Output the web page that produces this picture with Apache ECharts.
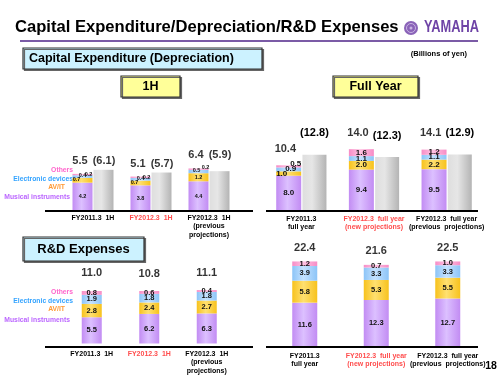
<!DOCTYPE html>
<html>
<head>
<meta charset="utf-8">
<script src="https://cdn.jsdelivr.net/npm/echarts@6/dist/echarts.min.js"></script>
<style>html,body{margin:0;padding:0;background:#fff;}#c{width:500px;height:375px;}</style>
</head>
<body>
<div id="c"></div>
<script>
// ---- data ----
const cats1H = ['FY2011.3  1H', 'FY2012.3  1H', 'FY2012.3  1H\n(previous\nprojections)'];
const catsFY = ['FY2011.3\nfull year', 'FY2012.3  full year\n(new projections)', 'FY2012.3  full year\n(previous  projections)'];
const segmentNames = ['Musical instruments', 'AV/IT', 'Electronic devices', 'Others'];

const capex1hMusical = [4.2, 3.8, 4.4];
const capex1hAVIT = [0.7, 0.7, 1.2];
const capex1hElectronic = [0.4, 0.4, 0.5];
const capex1hOthers = [0.2, 0.2, 0.2];
const capex1hTotal = [5.5, 5.1, 6.4];
const deprec1h = [6.1, 5.7, 5.9];

const capexFyMusical = [8.0, 9.4, 9.5];
const capexFyAVIT = [1.0, 2.0, 2.2];
const capexFyElectronic = [0.9, 1.1, 1.1];
const capexFyOthers = [0.5, 1.6, 1.2];
const capexFyTotal = [10.4, 14.0, 14.1];
const deprecFy = [12.8, 12.3, 12.9];

const rd1hMusical = [5.5, 6.2, 6.3];
const rd1hAVIT = [2.8, 2.4, 2.7];
const rd1hElectronic = [1.9, 1.8, 1.8];
const rd1hOthers = [0.8, 0.6, 0.4];
const rd1hTotal = [11.0, 10.8, 11.1];

const rdFyMusical = [11.6, 12.3, 12.7];
const rdFyAVIT = [5.8, 5.3, 5.5];
const rdFyElectronic = [3.9, 3.3, 3.3];
const rdFyOthers = [1.2, 0.7, 1.0];
const rdFyTotal = [22.4, 21.6, 22.5];

// ---- style ----
const FONT = 'Liberation Sans, Arial, sans-serif';
function grad(edge, mid) {
  return new echarts.graphic.LinearGradient(0, 0, 1, 0, [
    {offset: 0, color: edge}, {offset: 0.45, color: mid}, {offset: 1, color: edge}
  ]);
}
const segColors = [
  grad('#c28cf3', '#dcc0ff'),
  grad('#f7c21d', '#ffe070'),
  grad('#8cc4f7', '#c4e2ff'),
  grad('#f78cc6', '#ffc2e2')
];
const grayColor = new echarts.graphic.LinearGradient(0, 0, 1, 0, [
  {offset: 0, color: '#dedede'}, {offset: 0.4, color: '#e6e6e6'}, {offset: 1, color: '#b4b4b4'}
]);

// per-item label tweaks (style only)
const lab1H = [
  [{}, {}, {}],
  [{offset: [-6, -1]}, {offset: [-6, -1]}, {}],
  [{offset: [0, -1]}, {offset: [0, -1]}, {offset: [-2, -1]}],
  [{offset: [6, 0]}, {offset: [6, 0]}, {offset: [7, -2]}]
];
const labFY = [
  [{}, {}, {}],
  [{offset: [-7, 0]}, {}, {}],
  [{offset: [2, -1]}, {}, {}],
  [{offset: [7, -3]}, {}, {}]
];

function stacked(gi, stackName, arrays, fontSize, barWidth, tweaks) {
  return arrays.map((arr, k) => ({
    type: 'bar',
    name: segmentNames[k],
    xAxisIndex: gi, yAxisIndex: gi,
    stack: stackName,
    barWidth: barWidth,
    barGap: '5%',
    itemStyle: {color: segColors[k]},
    label: {
      show: true, position: 'inside', color: '#111',
      fontSize: fontSize, fontWeight: 'bold', fontFamily: FONT,
      formatter: p => p.value.toFixed(1)
    },
    data: arr.map((v, i) => tweaks ? {value: v, label: tweaks[k][i]} : v),
    z: 3
  }));
}

function totalScatter(gi, totals, dist, offX, extra, fmt) {
  return {
    type: 'scatter',
    xAxisIndex: gi, yAxisIndex: gi,
    symbol: 'circle', symbolSize: 0.1,
    itemStyle: {color: 'transparent'},
    label: {
      show: true, position: 'top', distance: dist, offset: [offX, 0],
      color: '#000', fontSize: 11, fontWeight: 'bold', fontFamily: FONT,
      formatter: fmt
    },
    data: totals.map((t, i) => [i, t, extra ? extra[i] : t]),
    z: 5
  };
}

function xAxis(gi, data, margin) {
  return {
    type: 'category', gridIndex: gi,
    data: data.map((d, i) => i === 1 ? {value: d, textStyle: {color: '#ff4d4d'}} : d),
    axisLine: {show: false}, axisTick: {show: false},
    axisLabel: {
      interval: 0, margin: margin, fontSize: 7, fontWeight: 'bold',
      fontFamily: FONT, color: '#000', lineHeight: 8.5
    }
  };
}

const chart = echarts.init(document.getElementById('c'));

const series = [];
// capex 1H
series.push(...stacked(0, 'c1', [capex1hMusical, capex1hAVIT, capex1hElectronic, capex1hOthers], 5.5, 20, lab1H));
series.push({
  type: 'bar', name: 'Depreciation', xAxisIndex: 0, yAxisIndex: 0,
  barWidth: 20, barGap: '5%', itemStyle: {color: grayColor}, data: deprec1h, z: 2
});
series.push(totalScatter(0, capex1hTotal, 7, -13, null, p => p.value[1].toFixed(1)));
series.push(totalScatter(0, capex1hTotal, 7, 11, deprec1h, p => '(' + p.value[2].toFixed(1) + ')'));
// capex FY
series.push(...stacked(1, 'c2', [capexFyMusical, capexFyAVIT, capexFyElectronic, capexFyOthers], 8, 25, labFY));
series.push({
  type: 'bar', name: 'Depreciation', xAxisIndex: 1, yAxisIndex: 1,
  barWidth: 24, barGap: '5%', itemStyle: {color: grayColor}, data: deprecFy, z: 2,
  label: {
    show: true, position: 'top', distance: 16, color: '#000',
    fontSize: 11, fontWeight: 'bold', fontFamily: FONT,
    formatter: p => '(' + p.value.toFixed(1) + ')'
  }
});
series.push(totalScatter(1, capexFyTotal, 11, -16, null, p => p.value[1].toFixed(1)));
// R&D 1H
series.push(...stacked(2, 'r1', [rd1hMusical, rd1hAVIT, rd1hElectronic, rd1hOthers], 7.5, 20, null));
series.push(totalScatter(2, rd1hTotal, 12, 0, null, p => p.value[1].toFixed(1)));
// R&D FY
series.push(...stacked(3, 'r2', [rdFyMusical, rdFyAVIT, rdFyElectronic, rdFyOthers], 7.5, 25, null));
series.push(totalScatter(3, rdFyTotal, 8, 0, null, p => p.value[1].toFixed(1)));

function legendTexts(yOthers, yED, yAV, yMI) {
  const f = 'bold 6.8px ' + FONT;
  return [
    {type: 'text', x: 73, y: yOthers, style: {text: 'Others', font: f, fill: '#ff66cc', align: 'right', verticalAlign: 'middle'}},
    {type: 'text', x: 73, y: yED, style: {text: 'Electronic devices', font: f, fill: '#33a3ff', align: 'right', verticalAlign: 'middle'}},
    {type: 'text', x: 65, y: yAV, style: {text: 'AV/IT', font: f, fill: '#ff9933', align: 'right', verticalAlign: 'middle'}},
    {type: 'text', x: 70, y: yMI, style: {text: 'Musical instruments', font: f, fill: '#bb66ff', align: 'right', verticalAlign: 'middle'}}
  ];
}

const boxShadow = {shadowBlur: 0, shadowOffsetX: 1.5, shadowOffsetY: 1.5, shadowColor: '#666'};

const graphic = [
  {type: 'text', x: 15, y: 27, style: {text: 'Capital Expenditure/Depreciation/R&D Expenses', font: 'bold 16.6px ' + FONT, fill: '#000', verticalAlign: 'middle'}},
  {type: 'line', shape: {x1: 20, y1: 41, x2: 478, y2: 41}, style: {stroke: '#7b5ba6', lineWidth: 2}},
  {type: 'circle', shape: {cx: 411, cy: 28, r: 7}, style: {fill: '#8a63b8'}},
  {type: 'circle', shape: {cx: 411, cy: 28, r: 4.5}, style: {fill: 'none', stroke: '#c9b3e3', lineWidth: 1}},
  {type: 'circle', shape: {cx: 411, cy: 28, r: 1.5}, style: {fill: '#c9b3e3'}},
  {type: 'text', x: 424, y: 28, scaleX: 0.8, style: {text: 'YAMAHA', font: 'bold 16px ' + FONT, fill: '#6e43a6', verticalAlign: 'middle'}},
  {type: 'rect', shape: {x: 23, y: 48, width: 239, height: 21}, style: Object.assign({fill: '#ccf2ff', stroke: '#333', lineWidth: 1.2}, boxShadow)},
  {type: 'text', x: 29, y: 58.5, style: {text: 'Capital Expenditure (Depreciation)', font: 'bold 12.5px ' + FONT, fill: '#000', verticalAlign: 'middle'}},
  {type: 'text', x: 467, y: 54, style: {text: '(Billions of yen)', font: 'bold 7.5px ' + FONT, fill: '#000', align: 'right', verticalAlign: 'middle'}},
  {type: 'rect', shape: {x: 121, y: 76, width: 59, height: 21}, style: Object.assign({fill: '#ffff99', stroke: '#333', lineWidth: 1.2}, boxShadow)},
  {type: 'text', x: 150.5, y: 86.5, style: {text: '1H', font: 'bold 12.5px ' + FONT, fill: '#000', align: 'center', verticalAlign: 'middle'}},
  {type: 'rect', shape: {x: 333, y: 76, width: 85, height: 21}, style: Object.assign({fill: '#ffff99', stroke: '#333', lineWidth: 1.2}, boxShadow)},
  {type: 'text', x: 375.5, y: 86.5, style: {text: 'Full Year', font: 'bold 12.5px ' + FONT, fill: '#000', align: 'center', verticalAlign: 'middle'}},
  {type: 'rect', shape: {x: 23, y: 237, width: 121, height: 24}, style: Object.assign({fill: '#ccf2ff', stroke: '#333', lineWidth: 1.2}, boxShadow)},
  {type: 'text', x: 83.5, y: 249, style: {text: 'R&D Expenses', font: 'bold 13px ' + FONT, fill: '#000', align: 'center', verticalAlign: 'middle'}},
  {type: 'line', shape: {x1: 45, y1: 211, x2: 253, y2: 211}, style: {stroke: '#000', lineWidth: 2}, z: 10},
  {type: 'line', shape: {x1: 266, y1: 211, x2: 478, y2: 211}, style: {stroke: '#000', lineWidth: 2}, z: 10},
  {type: 'line', shape: {x1: 45, y1: 347, x2: 253, y2: 347}, style: {stroke: '#000', lineWidth: 2}, z: 10},
  {type: 'line', shape: {x1: 266, y1: 347, x2: 478, y2: 347}, style: {stroke: '#000', lineWidth: 2}, z: 10},
  {type: 'text', x: 491, y: 366.5, style: {text: '18', font: 'bold 10.5px ' + FONT, fill: '#000', align: 'center', verticalAlign: 'middle'}}
].concat(legendTexts(170, 179, 187.5, 197.5), legendTexts(292.5, 301, 309.5, 320));

chart.setOption({
  animation: false,
  textStyle: {fontFamily: FONT},
  grid: [
    {left: 64, top: 143.5, width: 174, height: 67.5},
    {left: 265, top: 123.5, width: 218, height: 87},
    {left: 63, top: 276.7, width: 172.5, height: 69.3},
    {left: 269, top: 233.1, width: 214.5, height: 113.4}
  ],
  xAxis: [xAxis(0, cats1H, 2.5), xAxis(1, catsFY, 4), xAxis(2, cats1H, 6), xAxis(3, catsFY, 5)],
  yAxis: [
    {type: 'value', gridIndex: 0, min: 0, max: 10, show: false},
    {type: 'value', gridIndex: 1, min: 0, max: 20, show: false},
    {type: 'value', gridIndex: 2, min: 0, max: 14, show: false},
    {type: 'value', gridIndex: 3, min: 0, max: 30, show: false}
  ],
  graphic: graphic,
  series: series
});
</script>
</body>
</html>
